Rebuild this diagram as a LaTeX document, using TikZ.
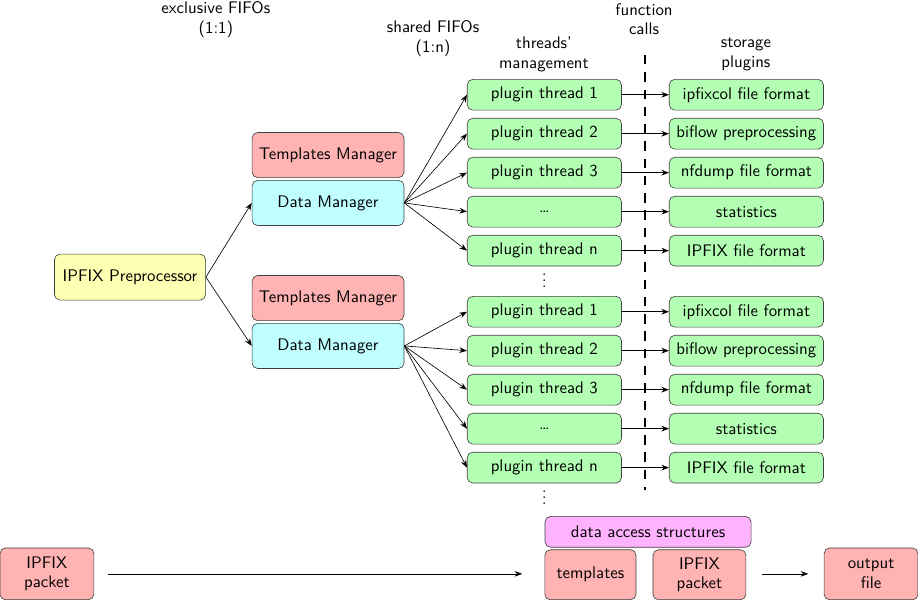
\documentclass[tikz,border=0pt]{standalone}
\usepackage{tikz}
\usetikzlibrary{arrows.meta}

\definecolor{thgreen}{RGB}{179,255,179}
\definecolor{tmred}{RGB}{255,179,179}
\definecolor{dmcyan}{RGB}{192,255,255}
\definecolor{ppyellow}{RGB}{255,255,179}
\definecolor{dapink}{RGB}{255,179,255}
\newcommand{\figfont}{\sffamily\fontsize{10.7}{12.6}\selectfont}

\tikzset{
  box/.style={draw=black!75, rounded corners=3.5pt, font=\figfont, align=center},
  thread/.style={box, fill=thgreen, minimum width=3.45cm, minimum height=0.69cm},
  mgr/.style={box, minimum width=3.4cm, minimum height=1.01cm},
  pkt/.style={box, fill=tmred, minimum width=2.1cm, minimum height=1.16cm},
  caption/.style={font=\figfont, align=center}
}

\begin{document}
\begin{tikzpicture}[>=Stealth]
        \useasboundingbox (0,0) rectangle (20.54,-13.42);
        % column captions
        \node[caption] (excl) at (4.83,-0.43) {exclusive FIFOs\\(1:1)};
        \node[caption] (shrd) at (9.69,-0.87) {shared FIFOs\\(1:n)};
        \node[caption] (fcal) at (14.41,-0.43) {function\\calls};
        \node[caption] (thrm) at (12.17,-1.22) {threads'\\management};
        \node[caption] (stor) at (16.69,-1.22) {storage\\plugins};
        % function call border
        \coordinate (fctop) at (14.43,-1.23);
        \coordinate (fcbot) at (14.43,-10.96);
        \draw[thick, dash pattern=on 6pt off 5pt] (fctop) -- (fcbot);
        \node[box, fill=ppyellow, minimum width=3.38cm, minimum height=1.03cm] (prep) at (2.91,-6.20) {IPFIX Preprocessor};
        \foreach \g/\my/\dy in {1/0/0, 2/3.2/4.855} {
          \node[mgr, fill=tmred] (tm\g) at (7.34,{-3.47-\my}) {Templates Manager};
          \node[mgr, fill=dmcyan] (dm\g) at (7.34,{-4.54-\my}) {Data Manager};
          \draw[->] (prep.east) -- (dm\g.west);
          \foreach \th/\pl [count=\j] in {plugin thread 1/ipfixcol file format, plugin thread 2/biflow preprocessing, plugin thread 3/nfdump file format, \ldots/statistics, plugin thread n/IPFIX file format} {
            \node[thread] (th\g-\j) at (12.18,{-2.12-0.872*(\j-1)-\dy}) {\th};
            \node[thread] (st\g-\j) at (16.70,{-2.12-0.872*(\j-1)-\dy}) {\pl};
            \draw[->] (dm\g.east) -- (th\g-\j.west);
            \draw[->] (th\g-\j.east) -- (st\g-\j.west);
          }
          \node[inner sep=0pt] (dots\g) at (12.18,{-6.17-\dy}) {$\vdots$};
        }
        % data flow at the bottom
        \node[pkt] (inpkt) at (1.05,-12.84) {IPFIX\\packet};
        \node[box, fill=dapink, minimum width=4.61cm, minimum height=0.69cm] (das) at (14.50,-11.90) {data access structures};
        \node[pkt, minimum width=2.04cm, minimum height=1.12cm] (tmpl) at (13.21,-12.86) {templates};
        \node[pkt, minimum width=2.08cm, minimum height=1.12cm] (dpkt) at (15.65,-12.86) {IPFIX\\packet};
        \node[pkt] (outf) at (19.49,-12.84) {output\\file};
        \draw[->, shorten <=0.31cm, shorten >=0.5cm] (inpkt.east) -- (inpkt.east -| tmpl.west);
        \draw[->, shorten <=0.35cm, shorten >=0.35cm] (dpkt.east |- outf.west) -- (outf.west);
\end{tikzpicture}
\end{document}
